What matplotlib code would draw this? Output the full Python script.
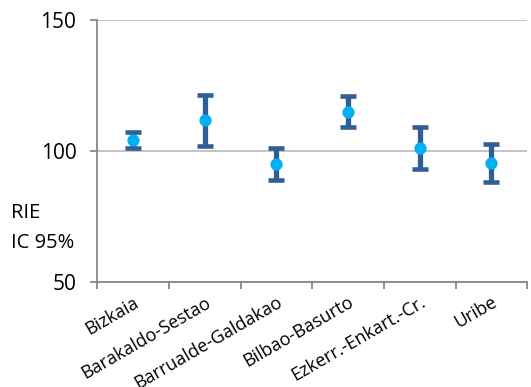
import numpy as np
import matplotlib.pyplot as plt

plt.rcParams['font.family'] = ['Open Sans', 'DejaVu Sans']

# data
areas = ["Bizkaia", "Barakaldo-Sestao", "Barrualde-Galdakao",
         "Bilbao-Basurto", "Ezkerr.-Enkart.-Cr.", "Uribe"]
rie = [104.2, 111.8, 95.0, 114.9, 101.1, 95.4]
ic_low = [101.1, 102.0, 88.9, 109.2, 93.1, 88.2]
ic_high = [107.3, 121.4, 101.1, 121.0, 109.2, 102.7]

fig = plt.figure(figsize=(5.31, 3.87), dpi=100)
ax = fig.add_axes([0.183, 0.271, 0.810, 0.677])

x = np.arange(len(areas)) + 0.5
rie = np.array(rie)
yerr = [rie - np.array(ic_low), np.array(ic_high) - rie]

ax.errorbar(x, rie, yerr=yerr, fmt='none', ecolor='#2f5f96',
            elinewidth=3.8, capsize=5.5, capthick=3.3, zorder=3)
ax.plot(x, rie, 'o', color='#00b0f0', markersize=7.8, zorder=4)

ax.set_xlim(0, len(areas))
ax.set_ylim(50, 150)
ax.set_yticks([50, 100, 150])
ax.yaxis.grid(True, color='#bfbfbf', linewidth=1.3)
ax.set_axisbelow(True)

# labels at category centres, tick marks at the boundaries
ax.set_xticks(x)
ax.set_xticklabels(areas, rotation=30, ha='right',
                   rotation_mode='anchor', fontsize=13)
ax.set_xticks(np.arange(len(areas) + 1), minor=True)
ax.tick_params(axis='x', which='major', length=0, pad=8)
ax.tick_params(axis='x', which='minor', length=5, color='#888888', width=1.3)
ax.tick_params(axis='y', length=5, color='#888888', width=1.3,
               labelsize=15, pad=10)

for side in ['top', 'right']:
    ax.spines[side].set_visible(False)
for side in ['left', 'bottom']:
    ax.spines[side].set_color('#888888')
    ax.spines[side].set_linewidth(1.3)

fig.text(0.02, 0.411, "RIE\nIC 95%", fontsize=14.5, ha='left', va='center',
         linespacing=1.7)

fig.savefig("out.png", dpi=100)
